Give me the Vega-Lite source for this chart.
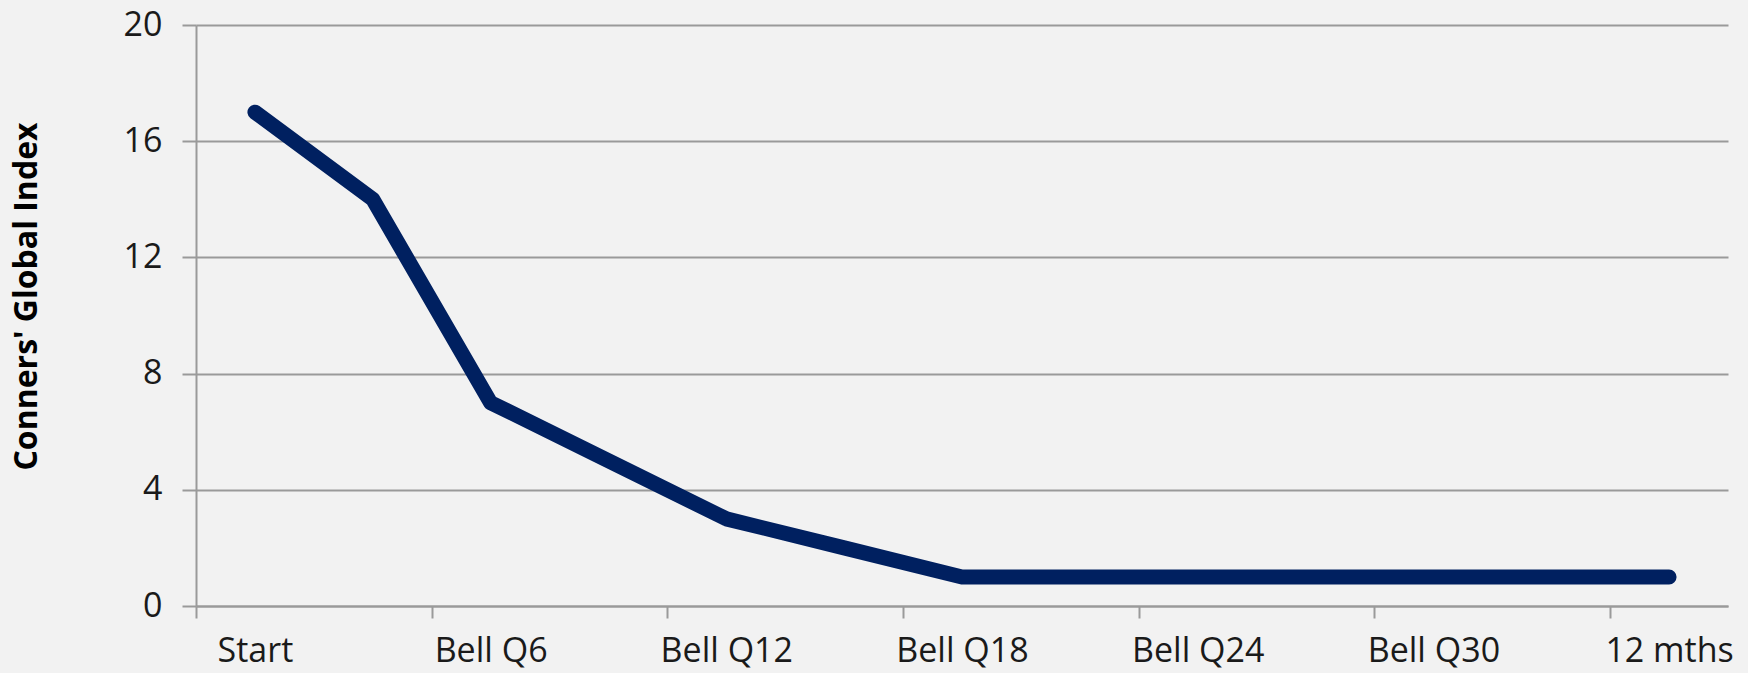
{
  "$schema": "https://vega.github.io/schema/vega-lite/v6.json",
  "autosize": {"type": "none"},
  "width": 1532,
  "height": 581,
  "padding": {"left": 196, "top": 25, "right": 20, "bottom": 67},
  "background": "#f2f2f2",
  "config": {
    "view": {"stroke": null},
    "font": "Open Sans"
  },
  "data": {
    "values": [
      {"time": "Start", "score": 17},
      {"time": "Bell Q3", "score": 14},
      {"time": "Bell Q6", "score": 7},
      {"time": "Bell Q9", "score": 5},
      {"time": "Bell Q12", "score": 3},
      {"time": "Bell Q15", "score": 2},
      {"time": "Bell Q18", "score": 1},
      {"time": "Bell Q21", "score": 1},
      {"time": "Bell Q24", "score": 1},
      {"time": "Bell Q27", "score": 1},
      {"time": "Bell Q30", "score": 1},
      {"time": "Bell Q33", "score": 1},
      {"time": "12 mths", "score": 1}
    ]
  },
  "mark": {"type": "line", "color": "#002060", "strokeWidth": 15, "strokeCap": "round", "strokeJoin": "round"},
  "encoding": {
    "x": {
      "field": "time",
      "type": "nominal",
      "sort": null,
      "scale": {"type": "band", "paddingInner": 0, "paddingOuter": 0},
      "axis": {
        "title": null,
        "tickBand": "extent",
        "labelAngle": 0,
        "labelFont": "Open Sans",
        "labelFontSize": 34,
        "labelColor": "#1a1a1a",
        "labelPadding": 16,
        "labelOverlap": false,
        "labelBound": false,
        "labelExpr": "indexof(['Start','Bell Q6','Bell Q12','Bell Q18','Bell Q24','Bell Q30','12 mths'], datum.value) >= 0 ? datum.value : ''",
        "tickSize": 12,
        "tickWidth": 2,
        "tickColor": "#9a9a9a",
        "tickOpacity": {"condition": {"test": "datum.extra || indexof(['Bell Q3','Bell Q9','Bell Q15','Bell Q21','Bell Q27','Bell Q33'], datum.value) >= 0", "value": 1}, "value": 0},
        "domainColor": "#9a9a9a",
        "domainWidth": 2,
        "grid": false
      }
    },
    "y": {
      "field": "score",
      "type": "quantitative",
      "scale": {"domain": [0, 20], "nice": false},
      "axis": {
        "title": "Conners' Global Index",
        "titleFont": "Open Sans",
        "titleFontSize": 32,
        "titleFontWeight": "bold",
        "titleColor": "#000000",
        "titleX": -170,
        "titleY": 271,
        "titleAngle": -90,
        "titleAlign": "center",
        "titleBaseline": "middle",
        "values": [0, 4, 8, 12, 16, 20],
        "labelFont": "Open Sans",
        "labelFontSize": 34,
        "labelColor": "#1a1a1a",
        "labelPadding": 20,
        "tickSize": 14,
        "tickWidth": 2,
        "tickColor": "#9a9a9a",
        "domainColor": "#9a9a9a",
        "domainWidth": 2,
        "grid": true,
        "gridColor": "#9a9a9a",
        "gridWidth": 2
      }
    }
  }
}
